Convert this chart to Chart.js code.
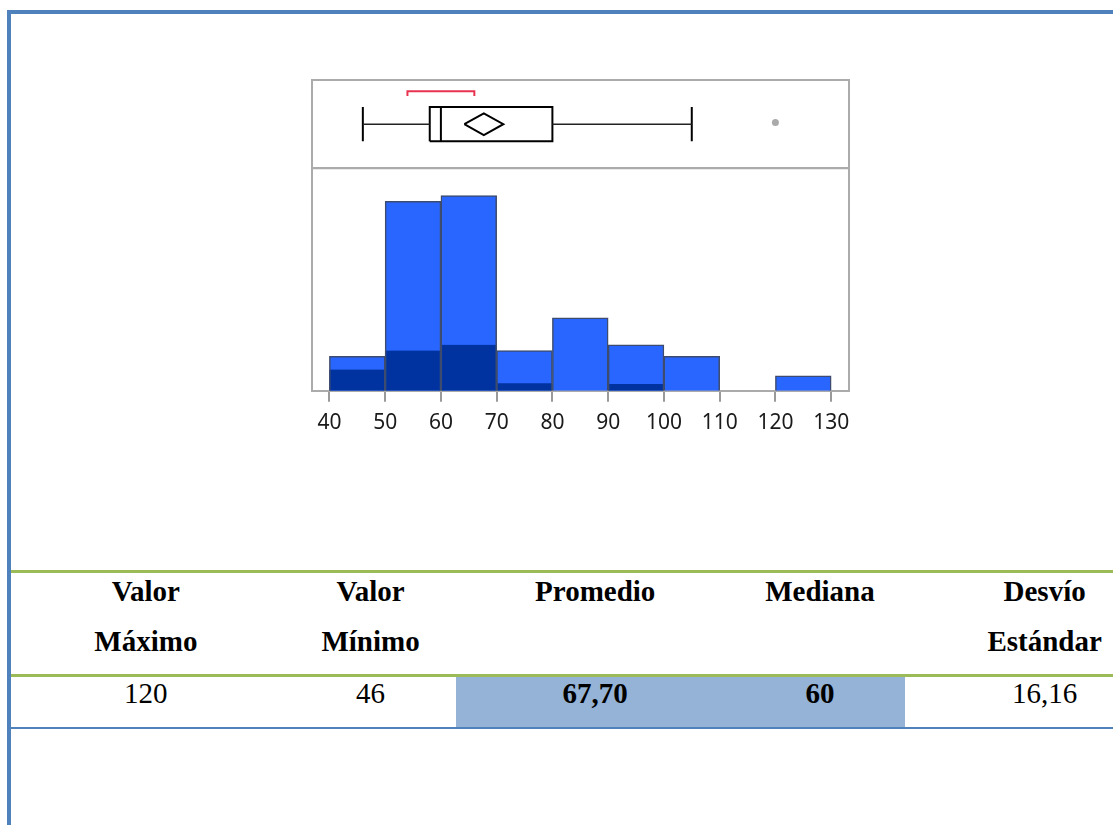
<!DOCTYPE html>
<html lang="es">
<head>
<meta charset="utf-8">
<title>Distribución</title>
<script src="https://cdn.jsdelivr.net/npm/chart.js@4.4.1/dist/chart.umd.min.js"></script>
<style>
    html, body { margin: 0; padding: 0; background: #ffffff; }
    body { position: relative; width: 1113px; height: 825px; overflow: hidden; }
    .rule { position: absolute; }
    #boxCanvas { position: absolute; left: 300px; top: 70px; }
    #histCanvas { position: absolute; left: 300px; top: 163px; }
    .cell {
        position: absolute;
        width: 170.7px;
        padding-left: 54px;
        text-align: center;
        font-family: "Liberation Serif", "Times New Roman", serif;
        font-size: 29px;
        line-height: 50px;
        color: #000000;
        white-space: nowrap;
    }
    .cell.bold { font-weight: bold; }
</style>
</head>
<body>
<div class="rule" style="left:7px;top:10px;width:1106px;height:4px;background:#4F81BD"></div>
<canvas id="boxCanvas" width="560" height="110"></canvas>
<canvas id="histCanvas" width="560" height="290"></canvas>
<div class="rule" style="left:455.6px;top:676px;width:449.4px;height:50.7px;background:#95B3D7"></div>
<div class="rule" style="left:11px;top:570px;width:1102px;height:2.5px;background:#9BBB59"></div>
<div class="rule" style="left:11px;top:673.5px;width:1102px;height:3px;background:#9BBB59"></div>
<div class="rule" style="left:11px;top:726.5px;width:1102px;height:2.5px;background:#4F81BD"></div>
<div id="table"></div>
<div class="rule" style="left:7px;top:10px;width:4px;height:815px;background:#4F81BD;z-index:5"></div>

<script>
// histogram bins (start of each 10-wide bin)
const binStarts = [40, 50, 60, 70, 80, 90, 100, 110, 120];
const binWidth = 10;
const allCounts = [6, 33, 34, 7, 12.7, 8, 6, 0, 2.6];
const subsetCounts = [3.7, 7, 8, 1.3, 0, 1.2, 0, 0, 0];
const xTicks = [40, 50, 60, 70, 80, 90, 100, 110, 120, 130];

// box plot: whisker low, Q1, median, Q3, whisker high
const boxFive = [46, 58, 60, 80, 105];
const outliers = [120];
const meanValue = 67.7;
const meanCI = [64.2, 71.2];
const shortestHalf = [54, 66];

// summary table
const statHeaders = [["Valor", "Máximo"], ["Valor", "Mínimo"], ["Promedio"], ["Mediana"], ["Desvío", "Estándar"]];
const statValues = ["120", "46", "67,70", "60", "16,16"];
const statBold = [false, false, true, true, false];

// shared x range of both panels
const xMin = 36.88;
const xMax = 133.2;

// vertical layout inside the box plot panel (0 = bottom, 1 = top)
const rowMid = 0.5;
const boxHalf = 0.195;
const diamondHalf = 0.123;
const bracketY = 0.872;
const bracketDrop = 0.053;
const outlierY = 0.52;

const frameColor = "#ababab";

// draws the gray panel frame around the chart area
const panelFrame = {
    id: "panelFrame",
    afterDraw(chart, args, opts) {
        const { ctx, chartArea } = chart;
        ctx.save();
        ctx.strokeStyle = frameColor;
        ctx.lineWidth = 2;
        ctx.beginPath();
        if (opts.bottom) {
            ctx.rect(chartArea.left, chartArea.top, chartArea.right - chartArea.left, chartArea.bottom - chartArea.top);
        } else {
            ctx.moveTo(chartArea.left, chartArea.bottom);
            ctx.lineTo(chartArea.left, chartArea.top);
            ctx.lineTo(chartArea.right, chartArea.top);
            ctx.lineTo(chartArea.right, chartArea.bottom);
        }
        ctx.stroke();
        ctx.restore();
    },
};

const line = (points, color, width) => ({
    data: points.map(([x, y]) => ({ x, y })),
    showLine: true,
    borderColor: color,
    borderWidth: width,
    pointRadius: 0,
    fill: false,
});

const [wLow, q1, med, q3, wHigh] = boxFive;
const boxTop = rowMid + boxHalf;
const boxBottom = rowMid - boxHalf;

new Chart(document.getElementById("boxCanvas"), {
    type: "scatter",
    data: {
        datasets: [
            line([[wLow, rowMid], [q1, rowMid]], "#222222", 1.5),
            line([[q3, rowMid], [wHigh, rowMid]], "#222222", 1.5),
            line([[wLow, boxBottom], [wLow, boxTop]], "#000000", 2),
            line([[wHigh, boxBottom], [wHigh, boxTop]], "#000000", 2),
            line([[q1, boxBottom], [q3, boxBottom], [q3, boxTop], [q1, boxTop], [q1, boxBottom]], "#000000", 2),
            line([[med, boxBottom], [med, boxTop]], "#000000", 2),
            line([
                [meanCI[0], rowMid], [meanValue, rowMid + diamondHalf], [meanCI[1], rowMid],
                [meanValue, rowMid - diamondHalf], [meanCI[0], rowMid],
            ], "#000000", 2),
            line([
                [shortestHalf[0], bracketY - bracketDrop], [shortestHalf[0], bracketY],
                [shortestHalf[1], bracketY], [shortestHalf[1], bracketY - bracketDrop],
            ], "#E8334F", 2),
            {
                data: outliers.map((v) => ({ x: v, y: outlierY })),
                pointRadius: 3.5,
                backgroundColor: "#aaaaaa",
                borderColor: "#aaaaaa",
                borderWidth: 0,
            },
        ],
    },
    options: {
        responsive: false,
        animation: false,
        layout: { padding: { left: 12, right: 11, top: 10, bottom: 11.7 } },
        scales: {
            x: { type: "linear", min: xMin, max: xMax, display: false },
            y: { type: "linear", min: 0, max: 1, display: false },
        },
        plugins: {
            legend: { display: false },
            tooltip: { enabled: false },
            panelFrame: { bottom: true },
        },
    },
    plugins: [panelFrame],
});

new Chart(document.getElementById("histCanvas"), {
    type: "bar",
    data: {
        datasets: [
            {
                label: "Seleccionados",
                data: binStarts.map((s, i) => ({ x: s + binWidth / 2, y: subsetCounts[i] })),
                backgroundColor: "#0033A0",
                borderColor: "#3D4C6E",
                borderWidth: { top: 0, bottom: 0, left: 1.5, right: 1.5 },
                borderSkipped: false,
                grouped: false,
                barPercentage: 1,
                categoryPercentage: 1,
                order: 0,
            },
            {
                label: "Todos",
                data: binStarts.map((s, i) => ({ x: s + binWidth / 2, y: allCounts[i] })),
                backgroundColor: "#2966FF",
                borderColor: "#3D4C6E",
                borderWidth: { top: 1.5, bottom: 0, left: 1.5, right: 1.5 },
                borderSkipped: false,
                grouped: false,
                barPercentage: 1,
                categoryPercentage: 1,
                order: 1,
            },
        ],
    },
    options: {
        responsive: false,
        animation: false,
        layout: { padding: { left: 12, right: 11, top: 5, bottom: 8 } },
        scales: {
            x: {
                type: "linear",
                min: xMin,
                max: xMax,
                offset: false,
                afterBuildTicks: (scale) => {
                    scale.ticks = xTicks.map((v) => ({ value: v }));
                },
                grid: {
                    display: true,
                    offset: false,
                    drawOnChartArea: false,
                    drawTicks: true,
                    tickLength: 11,
                    tickColor: "#9a9a9a",
                    tickWidth: 2,
                    color: "#9a9a9a",
                    lineWidth: 2,
                },
                border: { display: true, color: frameColor, width: 2 },
                ticks: {
                    autoSkip: false,
                    maxRotation: 0,
                    padding: 9,
                    color: "#1a1a1a",
                    font: { family: "'Noto Sans'", size: 21 },
                },
            },
            y: { type: "linear", min: 0, max: 38.8, display: false },
        },
        plugins: {
            legend: { display: false },
            tooltip: { enabled: false },
            panelFrame: { bottom: false },
        },
    },
    plugins: [panelFrame],
});

// summary table below the chart
const table = document.getElementById("table");
const colLeft = 6.5;
const colWidth = 224.7;
statHeaders.forEach((lines, i) => {
    const head = document.createElement("div");
    head.className = "cell bold";
    head.style.left = colLeft + i * colWidth + "px";
    head.style.top = "565.9px";
    head.innerHTML = lines.join("<br>");
    table.appendChild(head);

    const val = document.createElement("div");
    val.className = statBold[i] ? "cell bold" : "cell";
    val.style.left = colLeft + i * colWidth + "px";
    val.style.top = "667.5px";
    val.textContent = statValues[i];
    table.appendChild(val);
});
</script>
</body>
</html>
